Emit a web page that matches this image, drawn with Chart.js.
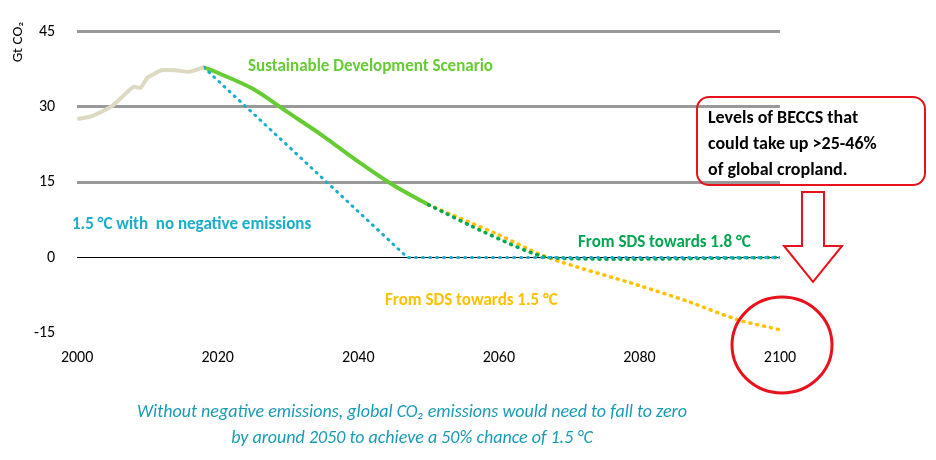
<!DOCTYPE html>
<html><head><meta charset="utf-8">
<script src="https://cdn.jsdelivr.net/npm/chart.js@4"></script>
<style>html,body{margin:0;background:#fff}#wrap{width:936px;height:460px}</style>
</head><body><div id="wrap"><canvas id="c"></canvas></div>
<script>
// values (Gt CO2)
const histYears = [2000, 2002, 2005, 2008, 2009, 2010, 2011, 2012, 2014, 2016, 2018];
const histVals  = [27.6, 28.1, 30.2, 34.0, 33.8, 35.8, 36.6, 37.3, 37.3, 37.0, 37.9];
const sdsYears = [2018, 2020, 2025, 2030, 2035, 2040, 2045, 2050];
const sdsVals  = [37.9, 36.8, 33.6, 28.9, 24.2, 19.1, 14.4, 10.5];
const sds18Years = [2050, 2058, 2067, 2100];
const sds18Vals  = [10.5, 5.0, 0, 0];
const sds15Years = [2050, 2060, 2067, 2080, 2087, 2094, 2100];
const sds15Vals  = [10.5, 4.5, 0, -5.6, -8.8, -12.4, -14.4];
const noNegYears = [2018, 2047, 2100];
const noNegVals  = [37.9, 0, 0];
const yTicks = [-15, 0, 15, 30, 45];
const xTicks = [2000, 2020, 2040, 2060, 2080, 2100];

const pts = (xs, ys) => xs.map((x, i) => ({ x, y: ys[i] }));
const FONT = "Calibri, Carlito, 'Open Sans', sans-serif";

const annotations = {
  id: 'annotations',
  afterDraw(chart) {
    const c = chart.ctx;
    c.save();
    // y title
    c.translate(18, 42); c.rotate(-Math.PI / 2);
    c.fillStyle = '#000'; c.font = '15px ' + FONT; c.textAlign = 'center'; c.textBaseline = 'middle';
    c.fillText('Gt CO₂', 0, 0);
    c.restore();
    c.save();
    c.font = 'bold 17px ' + FONT; c.textBaseline = 'middle';
    c.fillStyle = '#66cc33'; c.fillText('Sustainable Development Scenario', 248, 67);
    c.fillStyle = '#1aaecc'; c.fillText('1.5 °C with  no negative emissions', 72, 225);
    c.fillStyle = '#00a651'; c.fillText('From SDS towards 1.8 °C', 578, 243);
    c.fillStyle = '#ffc000'; c.fillText('From SDS towards 1.5 °C', 385, 301);
    // BECCS box
    c.strokeStyle = '#e8121c'; c.lineWidth = 2;
    c.beginPath(); c.roundRect(697, 97, 228, 88, 12); c.stroke();
    c.fillStyle = '#000'; c.font = 'bold 18px ' + FONT;
    c.fillText('Levels of BECCS that', 708, 118);
    c.fillText('could take up >25-46%', 708, 144);
    c.fillText('of global cropland.', 708, 170);
    // arrow
    c.fillStyle = '#fff'; c.lineWidth = 2;
    c.beginPath();
    c.moveTo(802, 192); c.lineTo(824, 192); c.lineTo(824, 246); c.lineTo(842, 246);
    c.lineTo(813, 282); c.lineTo(784, 246); c.lineTo(802, 246); c.closePath();
    c.fill(); c.stroke();
    // circle
    c.lineWidth = 3;
    c.beginPath(); c.ellipse(782, 345, 50, 48, 0, 0, Math.PI * 2); c.stroke();
    // caption
    c.fillStyle = '#1a9bb5'; c.font = 'italic 18px ' + FONT; c.textAlign = 'center';
    c.fillText('Without negative emissions, global CO₂ emissions would need to fall to zero', 412, 412);
    c.fillText('by around 2050 to achieve a 50% chance of 1.5 °C', 412, 438);
    c.restore();
  }
};

const zeroLine = {
  id: 'zeroLine',
  beforeDatasetsDraw(chart) {
    const c = chart.ctx, y = chart.scales.y.getPixelForValue(0), a = chart.chartArea;
    c.save(); c.strokeStyle = '#000'; c.lineWidth = 1.2;
    c.beginPath(); c.moveTo(a.left, y); c.lineTo(a.right, y); c.stroke(); c.restore();
  }
};

new Chart(document.getElementById('c'), {
  type: 'line',
  data: {
    datasets: [
      { data: pts(histYears, histVals), borderColor: '#ddd9c3', borderWidth: 4, pointRadius: 0, tension: 0.2 },
      { data: pts(noNegYears, noNegVals), borderColor: '#1aaecc', borderWidth: 3, borderDash: [1, 6], borderCapStyle: 'round', pointRadius: 0 },
      { data: pts(sds18Years, sds18Vals), borderColor: '#00a651', borderWidth: 3.5, borderDash: [1, 6], borderCapStyle: 'round', pointRadius: 0, tension: 0.2 },
      { data: pts(sds15Years, sds15Vals), borderColor: '#ffc000', borderWidth: 3.5, borderDash: [1, 6], borderCapStyle: 'round', pointRadius: 0, tension: 0.3 },
      { data: pts(sdsYears, sdsVals), borderColor: '#66cc33', borderWidth: 4, pointRadius: 0, tension: 0.3 }
    ]
  },
  options: {
    responsive: true, maintainAspectRatio: false, animation: false,
    layout: { padding: { left: 12, right: 156, top: 13, bottom: 84 } },
    plugins: { legend: { display: false }, tooltip: { enabled: false } },
    scales: {
      x: {
        type: 'linear', min: 2000, max: 2100,
        afterBuildTicks: ax => { ax.ticks = xTicks.map(v => ({ value: v })); },
        grid: { display: false }, border: { display: false },
        ticks: { color: '#000', font: { family: FONT, size: 16 }, padding: 8, callback: v => String(v) }
      },
      y: {
        min: -15, max: 45,
        afterBuildTicks: ax => { ax.ticks = yTicks.map(v => ({ value: v })); },
        grid: {
          color: ctx => (ctx.tick.value > 0 ? '#999' : 'rgba(0,0,0,0)'),
          lineWidth: 3, tickLength: 0
        },
        border: { display: false },
        ticks: { color: '#000', font: { family: FONT, size: 16 }, padding: 22 }
      }
    }
  },
  plugins: [zeroLine, annotations]
});
</script></body></html>
